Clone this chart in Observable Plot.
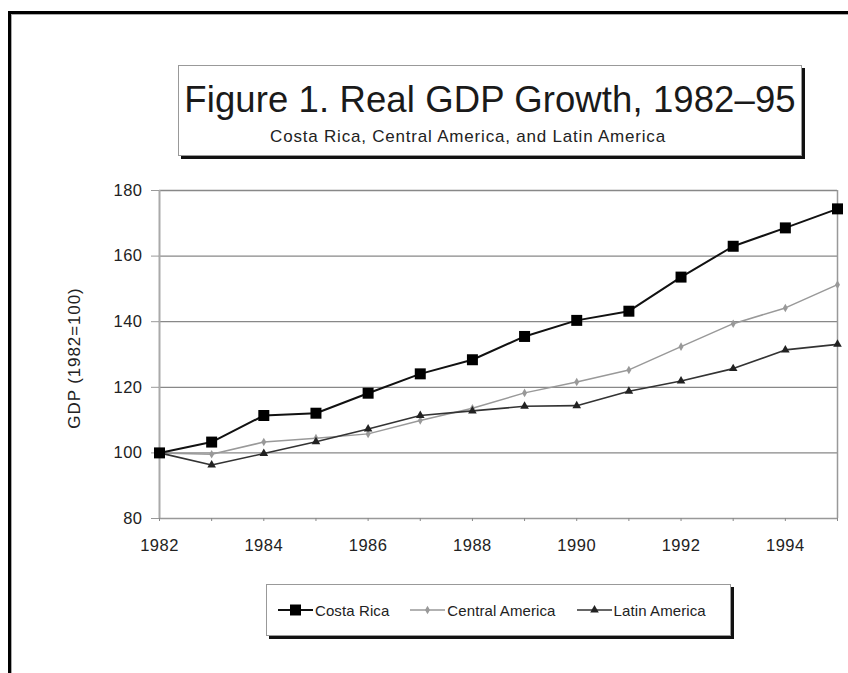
<!DOCTYPE html>
<html>
<head>
<meta charset="utf-8">
<script src="https://cdn.jsdelivr.net/npm/d3@7"></script>
<script src="https://cdn.jsdelivr.net/npm/@observablehq/plot@0.6"></script>
<style>
  html, body { margin: 0; padding: 0; background: #fff; }
  body { width: 848px; height: 673px; position: relative; overflow: hidden; font-family: "Liberation Sans", Arial, sans-serif; color: #222; }
  #frame { position: absolute; left: 8px; top: 11px; width: 900px; height: 700px; border-left: 3px solid #000; border-top: 3px solid #000; box-shadow: inset 1px 1px 0 #aaa; }
  #titlebox { position: absolute; left: 178px; top: 65px; width: 622px; height: 89px; border: 1px solid #999; box-shadow: 3px 3px 0 #111; background: #fff; }
  #title { position: absolute; left: 0; width: 100%; top: 16px; text-align: center; font-size: 36.5px; line-height: 36px; white-space: nowrap; color: #1a1a1a; letter-spacing: 0.1px; }
  #subtitle { position: absolute; left: -22px; width: 100%; top: 62px; text-align: center; font-size: 17px; line-height: 17px; white-space: nowrap; letter-spacing: 0.8px; color: #222; }
  #chart { position: absolute; left: 0; top: 0; }
  #chart svg text { letter-spacing: 0.5px; }
  #ylabel { position: absolute; left: 75px; top: 358px; transform: translate(-50%, -50%) rotate(-90deg); font-size: 17px; white-space: nowrap; letter-spacing: 0.9px; color: #222; }
  #legend { position: absolute; left: 266px; top: 584px; width: 452px; height: 50px; border: 1px solid #999; box-shadow: 3px 3px 0 #111; background: #fff; display: flex; align-items: center; padding-left: 11px; box-sizing: content-box; }
  .item { display: flex; align-items: center; margin-right: 21px; font-size: 15px; white-space: nowrap; color: #222; letter-spacing: 0.1px; }
  .item svg { margin-right: 2px; }
</style>
</head>
<body>
<div id="frame"></div>
<div id="chart"></div>
<div id="titlebox">
  <div id="title">Figure 1. Real GDP Growth, 1982–95</div>
  <div id="subtitle">Costa Rica, Central America, and Latin America</div>
</div>
<div id="ylabel">GDP (1982=100)</div>
<div id="legend"></div>
<script>
// ---- data ----
const years = [1982, 1983, 1984, 1985, 1986, 1987, 1988, 1989, 1990, 1991, 1992, 1993, 1994, 1995];
const costaRica      = [100, 103.3, 111.4, 112.1, 118.2, 124.1, 128.4, 135.5, 140.4, 143.2, 153.6, 163.0, 168.6, 174.4];
const centralAmerica = [100, 99.6, 103.3, 104.5, 105.8, 109.9, 113.6, 118.3, 121.6, 125.3, 132.4, 139.4, 144.2, 151.3];
const latinAmerica   = [100, 96.3, 99.8, 103.4, 107.3, 111.4, 112.8, 114.2, 114.4, 118.8, 121.9, 125.7, 131.4, 133.1];
const seriesNames = ["Costa Rica", "Central America", "Latin America"];
const yTicks = [80, 100, 120, 140, 160, 180];
const xLabelTicks = [1982, 1984, 1986, 1988, 1990, 1992, 1994];
const yLabel = "GDP (1982=100)";

const toRows = (vals) => years.map((y, i) => ({year: y, value: vals[i]}));
const cr = toRows(costaRica), ca = toRows(centralAmerica), la = toRows(latinAmerica);

const styles = [
  {stroke: "#111", width: 2, symbol: "square", r: 6.2, fill: "#000"},
  {stroke: "#999", width: 1.5, symbol: "diamond", r: 2.6, fill: "#999"},
  {stroke: "#333", width: 1.6, symbol: "triangle", r: 3.2, fill: "#222"}
];

const chart = Plot.plot({
  width: 848,
  height: 580,
  marginLeft: 159,
  marginRight: 11,
  marginTop: 190,
  marginBottom: 62,
  style: {fontFamily: "'Liberation Sans', Arial, sans-serif", fontSize: "16.5px", color: "#222", background: "transparent"},
  x: {domain: [1982, 1995]},
  y: {domain: [80, 180]},
  marks: [
    Plot.gridY(yTicks.slice(1), {stroke: "#888", strokeOpacity: 1, strokeWidth: 1.3}),
    Plot.ruleX([1995], {stroke: "#999", strokeWidth: 1.5}),
    Plot.ruleX([1982], {stroke: "#aaa", strokeWidth: 2}),
    Plot.ruleY([80], {stroke: "#999", strokeWidth: 1.5}),
    Plot.axisY(yTicks, {tickSize: 8, tickPadding: 9, stroke: "#999", label: null, tickFormat: "d"}),
    Plot.axisX(years, {tickSize: 3, tickFormat: () => "", stroke: "#888", label: null}),
    Plot.axisX(xLabelTicks, {tickSize: 0, tickPadding: 21, tickFormat: "d", label: null}),
    Plot.line(ca, {x: "year", y: "value", stroke: styles[1].stroke, strokeWidth: styles[1].width}),
    Plot.dot(ca, {x: "year", y: "value", symbol: styles[1].symbol, r: styles[1].r, fill: styles[1].fill}),
    Plot.line(la, {x: "year", y: "value", stroke: styles[2].stroke, strokeWidth: styles[2].width}),
    Plot.dot(la, {x: "year", y: "value", symbol: styles[2].symbol, r: styles[2].r, fill: styles[2].fill}),
    Plot.line(cr, {x: "year", y: "value", stroke: styles[0].stroke, strokeWidth: styles[0].width}),
    Plot.dot(cr, {x: "year", y: "value", symbol: styles[0].symbol, r: styles[0].r, fill: styles[0].fill})
  ]
});
document.getElementById("chart").appendChild(chart);
document.getElementById("ylabel").textContent = yLabel;

// ---- legend ----
const legend = d3.select("#legend");
const symMap = {square: d3.symbolSquare, diamond: d3.symbolDiamond, triangle: d3.symbolTriangle};
seriesNames.forEach((name, i) => {
  const s = styles[i];
  const item = legend.append("div").attr("class", "item");
  const svg = item.append("svg").attr("width", 35).attr("height", 14);
  svg.append("line").attr("x1", 0).attr("x2", 35).attr("y1", 7).attr("y2", 7)
    .attr("stroke", s.stroke).attr("stroke-width", s.width);
  svg.append("path").attr("transform", "translate(17.5,7)")
    .attr("d", d3.symbol(symMap[s.symbol], Math.PI * s.r * s.r)())
    .attr("fill", s.fill);
  item.append("span").text(name);
});
</script>
</body>
</html>
